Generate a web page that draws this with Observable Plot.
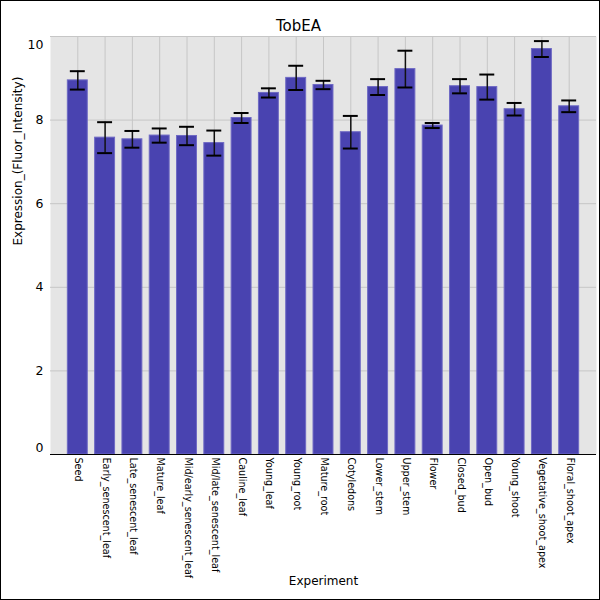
<!DOCTYPE html>
<html>
<head>
<meta charset="utf-8">
<script src="https://cdn.jsdelivr.net/npm/d3@7"></script>
<script src="https://cdn.jsdelivr.net/npm/@observablehq/plot@0.6"></script>
<style>
  html, body { margin: 0; padding: 0; background: #fff; }
  #chart svg { display: block; outline: 1px solid #000; outline-offset: -1px; }
</style>
</head>
<body>
<div id="chart"></div>
<script>
const title = "TobEA";
const xLabel = "Experiment";
const yLabel = "Expression_(Fluor_Intensity)";
const categories = ["Seed","Early_senescent_leaf","Late_senescent_leaf","Mature_leaf","Mid/early_senescent_leaf","Mid/late_senescent_leaf","Cauline_leaf","Young_leaf","Young_root","Mature_root","Cotyledons","Lower_stem","Upper_stem","Flower","Closed_bud","Open_bud","Young_shoot","Vegetative_shoot_apex","Floral_shoot_apex"];
const means = [8.95,7.58,7.54,7.63,7.62,7.45,8.05,8.65,9.01,8.84,7.71,8.79,9.22,7.87,8.81,8.79,8.26,9.70,8.33];
const errs  = [0.22,0.37,0.20,0.17,0.22,0.30,0.12,0.11,0.29,0.10,0.39,0.19,0.44,0.06,0.17,0.30,0.15,0.19,0.14];
const yTicks = [0,2,4,6,8,10];

const data = categories.map((c,i) => ({cat: c, val: means[i], lo: means[i]-errs[i], hi: means[i]+errs[i]}));
const font = "DejaVu Sans, sans-serif";

const chart = Plot.plot({
  width: 600,
  height: 600,
  marginLeft: 50,
  marginRight: 4,
  marginTop: 36,
  marginBottom: 146,
  style: {fontFamily: font, background: "#fff"},
  x: {type: "band", domain: categories, padding: 0.27, paddingOuter: 0.635, round: false, axis: null},
  y: {domain: [0, 10], axis: null},
  marks: [
    Plot.frame({fill: "#e5e5e5", stroke: "none"}),
    Plot.ruleY(yTicks, {stroke: "#c6c6c6", strokeWidth: 1}),
    Plot.ruleX(categories, {x: d => d, stroke: "#c6c6c6", strokeWidth: 1}),
    Plot.barY(data, {x: "cat", y: "val", fill: "#4943b0", stroke: "#6e69c4", strokeWidth: 1}),
    Plot.ruleX(data, {x: "cat", y1: "lo", y2: "hi", stroke: "#111", strokeWidth: 1.5}),
    Plot.tickY(data, {x: "cat", y: "lo", stroke: "#000", strokeWidth: 2, insetLeft: 2.5, insetRight: 2.5}),
    Plot.tickY(data, {x: "cat", y: "hi", stroke: "#000", strokeWidth: 2, insetLeft: 2.5, insetRight: 2.5}),
    Plot.ruleX([0], {frameAnchor: "left", stroke: "#000"}),
    Plot.ruleY([0], {stroke: "#000", strokeWidth: 1}),
    Plot.text(yTicks.filter(t => t > 0 && t < 10), {y: d => d, text: d => String(d), frameAnchor: "left", textAnchor: "end", dx: -7, fontSize: 12.5, fill: "#000"}),
    Plot.text([yTicks[0]], {y: d => d, text: d => String(d), frameAnchor: "left", textAnchor: "end", dx: -7, dy: -7, fontSize: 12.5, fill: "#000"}),
    Plot.text([yTicks[yTicks.length-1]], {y: d => d, text: d => String(d), frameAnchor: "left", textAnchor: "end", dx: -7, dy: 8, fontSize: 12.5, fill: "#000"}),
    Plot.text(categories, {x: d => d, text: d => d, frameAnchor: "bottom", rotate: 90, textAnchor: "start", dy: 3, dx: -2.5, fontSize: 9.6, fill: "#000"}),
    Plot.text([xLabel], {frameAnchor: "bottom", dy: 130, fontSize: 12, fill: "#000"}),
    Plot.text([yLabel], {frameAnchor: "left", rotate: -90, dx: -32, fontSize: 12, fill: "#000"}),
    Plot.text([title], {frameAnchor: "top", dy: -16, dx: -25, fontSize: 15, fill: "#000"})
  ]
});
document.getElementById("chart").appendChild(chart);
</script>
</body>
</html>
